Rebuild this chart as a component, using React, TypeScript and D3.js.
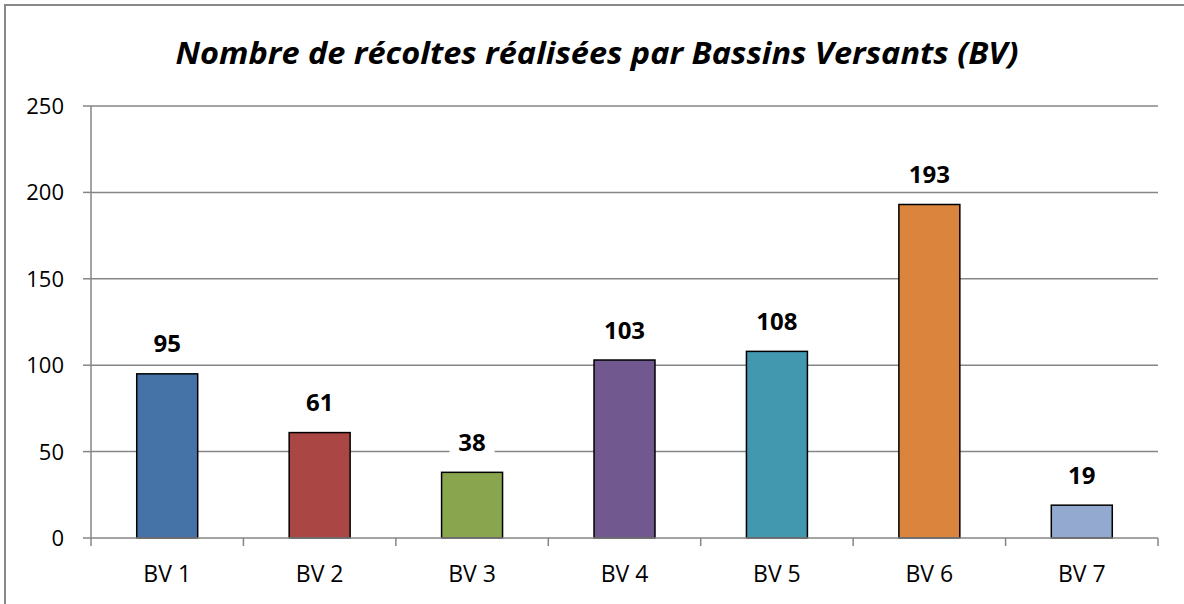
import React from "react";
import * as d3 from "d3";

const categories = ["BV 1", "BV 2", "BV 3", "BV 4", "BV 5", "BV 6", "BV 7"];
const values = [95, 61, 38, 103, 108, 193, 19];
const colors = ["#4572A7", "#AA4643", "#89A54E", "#71588F", "#4198AF", "#DB843D", "#93A9CF"];
const yTicks = [0, 50, 100, 150, 200, 250];
const title = "Nombre de récoltes réalisées par Bassins Versants (BV)";

const W = 1184;
const H = 604;
const left = 91;
const right = 1158;
const top = 106;
const bottom = 538;
const FONT = "'Open Sans', 'Noto Sans', sans-serif";

export default function App() {
  const x = d3.scaleBand<string>().domain(categories).range([left, right]).paddingInner(0.6).paddingOuter(0.3);
  const xb = d3.scaleBand<string>().domain(categories).range([left, right]);
  const y = d3.scaleLinear().domain([0, 250]).range([bottom, top]);
  const grid = "#868686";
  const boundaries = [left, ...categories.map((c) => (xb(c) as number) + xb.bandwidth())];

  return (
    <svg width={W} height={H} style={{ position: "absolute", left: 0, top: 0, display: "block" }}>
      <rect x={0} y={0} width={W} height={H} fill="#fff" />
      <rect x={5} y={5} width={W + 20} height={H + 10} fill="#fff" stroke="#888" strokeWidth={2} />
      <text
        x={597}
        y={64}
        textAnchor="middle"
        fontFamily={FONT}
        fontWeight="bold"
        fontStyle="italic"
        fontSize={30}
        textLength={843}
        lengthAdjust="spacingAndGlyphs"
        fill="#000"
      >
        {title}
      </text>
      {yTicks.map((t) => (
        <g key={t}>
          {t > 0 && <line x1={left} x2={right} y1={y(t)} y2={y(t)} stroke={grid} strokeWidth={1.5} />}
          <line x1={83} x2={left} y1={y(t)} y2={y(t)} stroke={grid} strokeWidth={1.5} />
          <text x={64} y={y(t)} dy="0.36em" textAnchor="end" fontFamily={FONT} fontSize={22} fill="#000">
            {t}
          </text>
        </g>
      ))}
      <line x1={left} x2={left} y1={top} y2={bottom} stroke={grid} strokeWidth={1.5} />
      {categories.map((c, i) => {
        const bx = x(c) as number;
        const by = y(values[i]);
        return (
          <rect
            key={c}
            x={bx}
            y={by}
            width={x.bandwidth()}
            height={bottom - by}
            fill={colors[i]}
            stroke="#000"
            strokeWidth={1.5}
          />
        );
      })}
      <line x1={left} x2={right} y1={bottom} y2={bottom} stroke={grid} strokeWidth={1.5} />
      {boundaries.map((b, i) => (
        <line key={i} x1={b} x2={b} y1={bottom} y2={bottom + 8} stroke={grid} strokeWidth={1.5} />
      ))}
      {categories.map((c, i) => {
        const cx = (xb(c) as number) + xb.bandwidth() / 2;
        const label = String(values[i]);
        const bw = label.length * 14.5 + 16;
        const cy = y(values[i]) - 30;
        return (
          <g key={c}>
            <rect x={cx - bw / 2} y={cy - 15} width={bw} height={30} fill="#fff" />
            <text x={cx} y={cy} dy="0.36em" textAnchor="middle" fontFamily={FONT} fontWeight="bold" fontSize={24} fill="#000">
              {label}
            </text>
            <text x={cx} y={574} dy="0.36em" textAnchor="middle" fontFamily={FONT} fontSize={23} fill="#000">
              {c}
            </text>
          </g>
        );
      })}
    </svg>
  );
}
